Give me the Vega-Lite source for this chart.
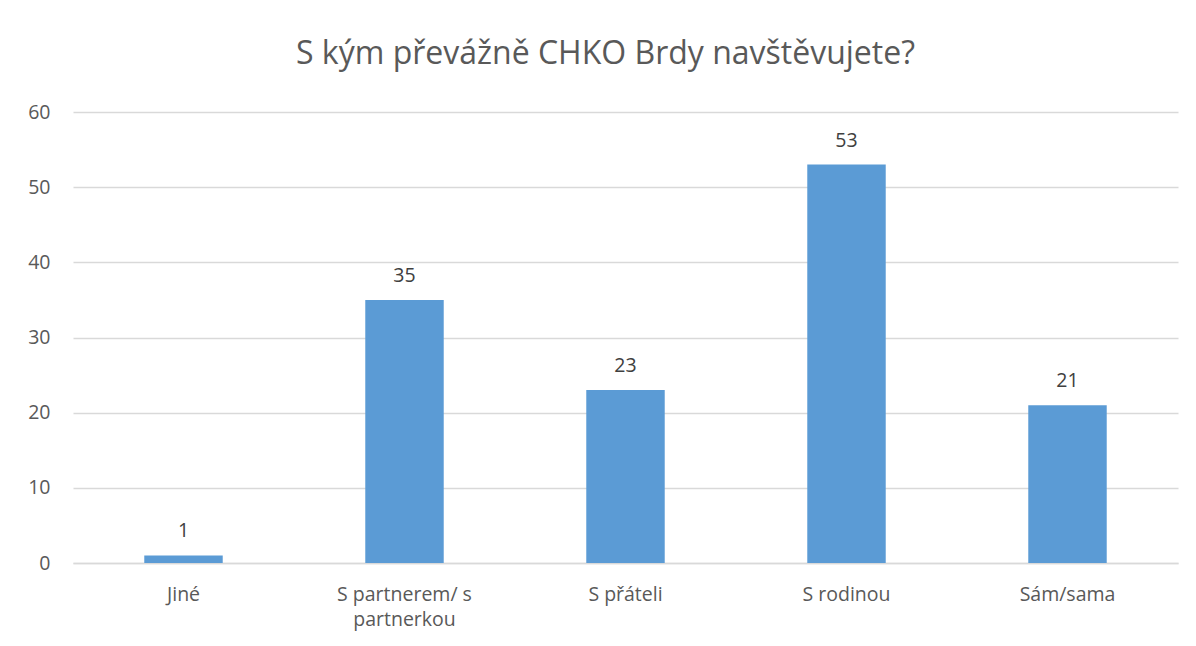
{
  "$schema": "https://vega.github.io/schema/vega-lite/v6.json",
  "autosize": "none",
  "width": 1105,
  "height": 451,
  "padding": {"left": 73, "top": 112, "right": 18, "bottom": 83},
  "background": "white",
  "title": {
    "text": "S kým převážně CHKO Brdy navštěvujete?",
    "font": "Open Sans",
    "fontSize": 32,
    "fontWeight": "normal",
    "color": "#595959",
    "anchor": "middle",
    "baseline": "alphabetic",
    "offset": 6,
    "dx": -20
  },
  "data": {
    "values": [
      {"kategorie": "Jiné", "pocet": 1},
      {"kategorie": "S partnerem/ s partnerkou", "pocet": 35},
      {"kategorie": "S přáteli", "pocet": 23},
      {"kategorie": "S rodinou", "pocet": 53},
      {"kategorie": "Sám/sama", "pocet": 21}
    ]
  },
  "encoding": {
    "x": {
      "field": "kategorie",
      "type": "nominal",
      "sort": null,
      "title": null,
      "scale": {"paddingInner": 0.645, "paddingOuter": 0.3225},
      "axis": {
        "labelAngle": 0,
        "labelFont": "Open Sans",
        "labelFontSize": 19.5,
        "labelColor": "#595959",
        "labelPadding": 22,
        "labelLineHeight": 25,
        "labelBaseline": "top",
        "ticks": false,
        "domainColor": "#d9d9d9",
        "domainWidth": 1.5,
        "labelExpr": "datum.value == 'S partnerem/ s partnerkou' ? ['S partnerem/ s', 'partnerkou'] : datum.value"
      }
    },
    "y": {
      "field": "pocet",
      "type": "quantitative",
      "title": null,
      "scale": {"domain": [0, 60]},
      "axis": {
        "values": [0, 10, 20, 30, 40, 50, 60],
        "labelFont": "Open Sans",
        "labelFontSize": 19.5,
        "labelColor": "#595959",
        "labelPadding": 23,
        "ticks": false,
        "domain": false,
        "gridColor": "#d9d9d9",
        "gridWidth": 1.3
      }
    }
  },
  "layer": [
    {"mark": {"type": "bar", "color": "#5b9bd5"}},
    {
      "mark": {
        "type": "text",
        "font": "Open Sans",
        "fontSize": 19.5,
        "color": "#404040",
        "baseline": "alphabetic",
        "dy": -18
      },
      "encoding": {"text": {"field": "pocet", "type": "quantitative"}}
    }
  ],
  "config": {"view": {"stroke": null}}
}
